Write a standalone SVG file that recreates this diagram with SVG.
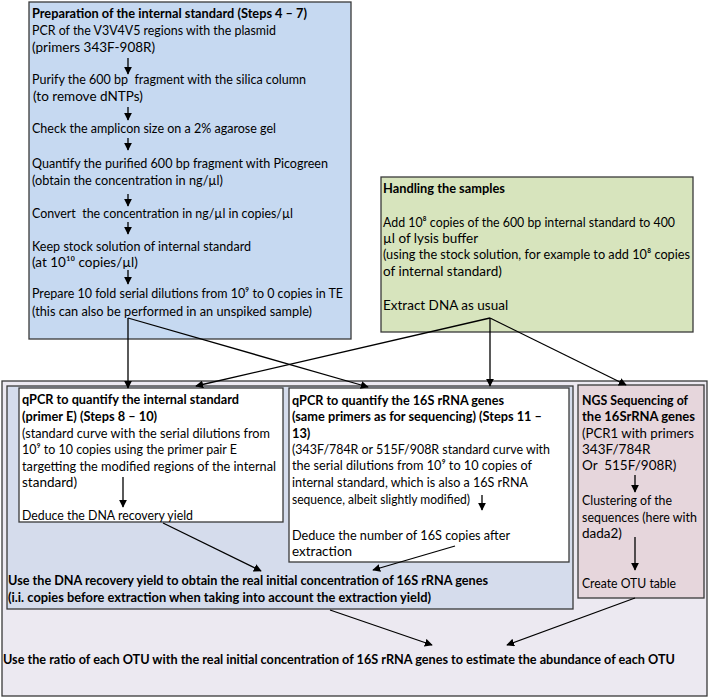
<svg xmlns="http://www.w3.org/2000/svg" width="709" height="698" viewBox="0 0 709 698">
<style>
text{font-family:Lato,"Liberation Sans","DejaVu Sans",sans-serif;font-size:13.5px;fill:#000}
.b{font-weight:bold;font-size:12.8px}
.box{stroke:#3a3a3a;stroke-width:1.3}
.c{stroke:#000;stroke-width:1.3;fill:none;marker-end:url(#ah)}
</style>
<defs>
<marker id="ah" viewBox="0 0 10 10" refX="9" refY="5" markerWidth="8" markerHeight="8" markerUnits="userSpaceOnUse" orient="auto">
<path d="M0,0L10,5L0,10z" fill="#000"/>
</marker>
</defs>
<rect width="709" height="698" fill="#fff"/>

<g id="prep">
<rect class="box" x="29" y="2" width="322" height="337" fill="#c6d9f1"/>
<text x="32" y="18" class="b" textLength="275" lengthAdjust="spacingAndGlyphs">Preparation of the internal standard (Steps 4 – 7)</text>
<text x="32" y="35" textLength="244" lengthAdjust="spacingAndGlyphs">PCR of the V3V4V5 regions with the plasmid</text>
<text x="32" y="52">(primers 343F-908R)</text>
<text x="32" y="84" textLength="274" lengthAdjust="spacingAndGlyphs">Purify the 600 bp&#160; fragment with the silica column</text>
<text x="33" y="101">(to remove dNTPs)</text>
<text x="32" y="133" textLength="244" lengthAdjust="spacingAndGlyphs">Check the amplicon size on a 2% agarose gel</text>
<text x="32" y="168" textLength="296" lengthAdjust="spacingAndGlyphs">Quantify the purified 600 bp fragment with Picogreen</text>
<text x="32" y="185" textLength="191" lengthAdjust="spacingAndGlyphs">(obtain the concentration in ng/µl)</text>
<text x="32" y="218" textLength="261" lengthAdjust="spacingAndGlyphs">Convert&#160; the concentration in ng/µl in copies/µl</text>
<text x="32" y="251" textLength="219" lengthAdjust="spacingAndGlyphs">Keep stock solution of internal standard</text>
<text x="32" y="267">(at 10¹⁰ copies/µl)</text>
<text x="32" y="298" textLength="311" lengthAdjust="spacingAndGlyphs">Prepare 10 fold serial dilutions from 10⁹ to 0 copies in TE</text>
<text x="32" y="316" textLength="280" lengthAdjust="spacingAndGlyphs">(this can also be performed in an unspiked sample)</text>
</g>

<g id="samples">
<rect class="box" x="381" y="177" width="312" height="155" fill="#d7e4bd"/>
<text x="383" y="193" class="b">Handling the samples</text>
<text x="383" y="227" textLength="292" lengthAdjust="spacingAndGlyphs">Add 10⁸ copies of the 600 bp internal standard to 400</text>
<text x="383" y="243">µl of lysis buffer</text>
<text x="383" y="259" textLength="307" lengthAdjust="spacingAndGlyphs">(using the stock solution, for example to add 10⁸ copies</text>
<text x="383" y="276">of internal standard)</text>
<text x="383" y="310">Extract DNA as usual</text>
</g>

<g id="final">
<rect class="box" x="2" y="381" width="705" height="315" fill="#ece9f1"/>
<text x="3" y="664" class="b" textLength="672" lengthAdjust="spacingAndGlyphs">Use the ratio of each OTU with the real initial concentration of 16S rRNA genes to estimate the abundance of each OTU</text>
</g>

<g id="recovery">
<rect class="box" x="7" y="386" width="566" height="223" fill="#d5dcec"/>
<text x="8" y="585" class="b" textLength="480" lengthAdjust="spacingAndGlyphs">Use the DNA recovery yield to obtain the real initial concentration of 16S rRNA genes</text>
<text x="8" y="602" class="b" textLength="423" lengthAdjust="spacingAndGlyphs">(i.i. copies before extraction when taking into account the extraction yield)</text>
</g>

<g id="qpcr-is">
<rect class="box" x="19" y="388" width="264" height="134" fill="#fff"/>
<text x="22" y="404" class="b" textLength="217" lengthAdjust="spacingAndGlyphs">qPCR to quantify the internal standard</text>
<text x="22" y="421" class="b">(primer E) (Steps 8 – 10)</text>
<text x="22" y="438" textLength="248" lengthAdjust="spacingAndGlyphs">(standard curve with the serial dilutions from</text>
<text x="22" y="454" textLength="215" lengthAdjust="spacingAndGlyphs">10⁹ to 10 copies using the primer pair E</text>
<text x="22" y="471" textLength="254" lengthAdjust="spacingAndGlyphs">targetting the modified regions of the internal</text>
<text x="22" y="487">standard)</text>
<text x="22" y="520" textLength="171" lengthAdjust="spacingAndGlyphs">Deduce the DNA recovery yield</text>
</g>

<g id="qpcr-16s">
<rect class="box" x="289" y="388" width="280" height="174" fill="#fff"/>
<text x="292" y="405" class="b" textLength="212" lengthAdjust="spacingAndGlyphs">qPCR to quantify the 16S rRNA genes</text>
<text x="292" y="421" class="b" textLength="250" lengthAdjust="spacingAndGlyphs">(same primers as for sequencing) (Steps 11 –</text>
<text x="292" y="438" class="b">13)</text>
<text x="292" y="454" textLength="258" lengthAdjust="spacingAndGlyphs">(343F/784R or 515F/908R standard curve with</text>
<text x="292" y="470" textLength="240" lengthAdjust="spacingAndGlyphs">the serial dilutions from 10⁹ to 10 copies of</text>
<text x="292" y="487" textLength="236" lengthAdjust="spacingAndGlyphs">internal standard, which is also a 16S rRNA</text>
<text x="292" y="504" textLength="178" lengthAdjust="spacingAndGlyphs">sequence, albeit slightly modified)</text>
<text x="292" y="540" textLength="218" lengthAdjust="spacingAndGlyphs">Deduce the number of 16S copies after</text>
<text x="292" y="556">extraction</text>
</g>

<g id="ngs">
<rect class="box" x="578" y="385" width="126" height="213" fill="#e6d6dc"/>
<text x="582" y="405" class="b" textLength="106" lengthAdjust="spacingAndGlyphs">NGS Sequencing of</text>
<text x="582" y="421" class="b" textLength="113" lengthAdjust="spacingAndGlyphs">the 16SrRNA genes</text>
<text x="582" y="438" textLength="112" lengthAdjust="spacingAndGlyphs">(PCR1 with primers</text>
<text x="582" y="454">343F/784R</text>
<text x="582" y="470">Or&#160; 515F/908R)</text>
<text x="582" y="505" textLength="90" lengthAdjust="spacingAndGlyphs">Clustering of the</text>
<text x="582" y="522" textLength="115" lengthAdjust="spacingAndGlyphs">sequences (here with</text>
<text x="582" y="538">dada2)</text>
<text x="582" y="588" textLength="94" lengthAdjust="spacingAndGlyphs">Create OTU table</text>
</g>

<g id="connectors">
<line class="c" x1="128" y1="58" x2="128" y2="74"/>
<line class="c" x1="128" y1="107" x2="128" y2="120"/>
<line class="c" x1="128" y1="138" x2="128" y2="150"/>
<line class="c" x1="128" y1="194" x2="128" y2="206"/>
<line class="c" x1="128" y1="222" x2="128" y2="234"/>
<line class="c" x1="128" y1="270" x2="128" y2="284"/>
<line class="c" x1="128" y1="318" x2="128" y2="388"/>
<line class="c" x1="128" y1="318" x2="368" y2="387"/>
<line class="c" x1="490" y1="318" x2="196" y2="386"/>
<line class="c" x1="490" y1="318" x2="490" y2="386"/>
<line class="c" x1="490" y1="318" x2="626" y2="385"/>
<line class="c" x1="123" y1="477" x2="123" y2="507"/>
<line class="c" x1="163" y1="523" x2="261" y2="571"/>
<line class="c" x1="482" y1="495" x2="482" y2="510"/>
<line class="c" x1="455" y1="546" x2="373" y2="570"/>
<line class="c" x1="635" y1="475" x2="635" y2="492"/>
<line class="c" x1="635" y1="537" x2="635" y2="570"/>
<line class="c" x1="330" y1="610" x2="432" y2="645"/>
<line class="c" x1="635" y1="598" x2="507" y2="645"/>
</g>
</svg>
